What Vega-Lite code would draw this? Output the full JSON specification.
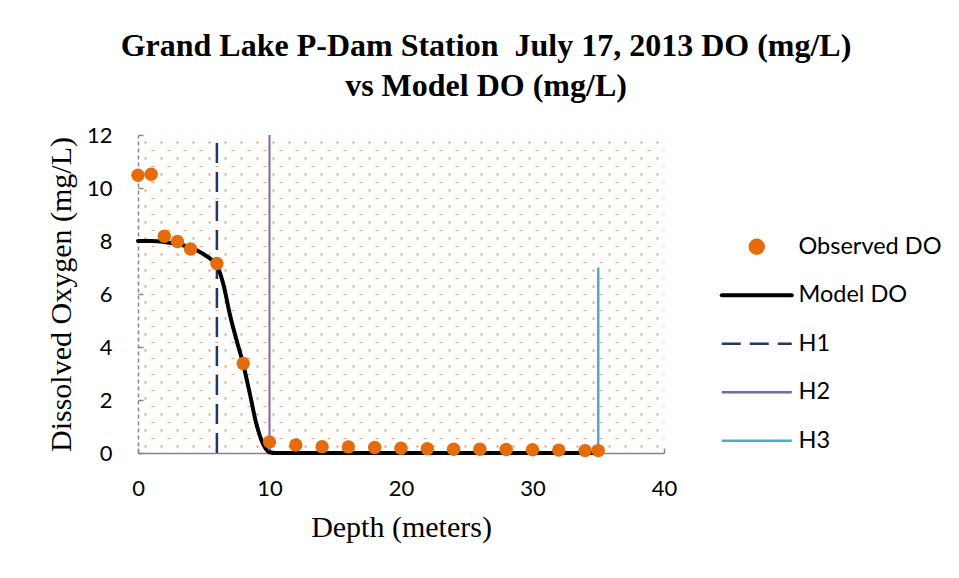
{
  "$schema": "https://vega.github.io/schema/vega-lite/v6.json",
  "width": 526,
  "height": 318,
  "autosize": "none",
  "padding": {"left": 138, "top": 135, "right": 295, "bottom": 125},
  "background": "white",
  "config": {"view": {"stroke": null}, "font": "Lato"},
  "title": {
    "text": ["Grand Lake P-Dam Station\u00a0 July 17, 2013 DO (mg/L)", "vs Model DO (mg/L)"],
    "font": "Liberation Serif",
    "fontSize": 32,
    "fontWeight": "bold",
    "color": "black",
    "lineHeight": 40,
    "anchor": "middle",
    "dx": 85,
    "offset": 21
  },
  "datasets": {
    "observed": [
      {"depth": 0, "do": 10.48, "series": "Observed DO"},
      {"depth": 1, "do": 10.52, "series": "Observed DO"},
      {"depth": 2, "do": 8.18, "series": "Observed DO"},
      {"depth": 3, "do": 7.98, "series": "Observed DO"},
      {"depth": 4, "do": 7.7, "series": "Observed DO"},
      {"depth": 6, "do": 7.15, "series": "Observed DO"},
      {"depth": 8, "do": 3.38, "series": "Observed DO"},
      {"depth": 10, "do": 0.42, "series": "Observed DO"},
      {"depth": 12, "do": 0.3, "series": "Observed DO"},
      {"depth": 14, "do": 0.24, "series": "Observed DO"},
      {"depth": 16, "do": 0.23, "series": "Observed DO"},
      {"depth": 18, "do": 0.21, "series": "Observed DO"},
      {"depth": 20, "do": 0.18, "series": "Observed DO"},
      {"depth": 22, "do": 0.16, "series": "Observed DO"},
      {"depth": 24, "do": 0.14, "series": "Observed DO"},
      {"depth": 26, "do": 0.14, "series": "Observed DO"},
      {"depth": 28, "do": 0.13, "series": "Observed DO"},
      {"depth": 30, "do": 0.12, "series": "Observed DO"},
      {"depth": 32, "do": 0.11, "series": "Observed DO"},
      {"depth": 34, "do": 0.09, "series": "Observed DO"},
      {"depth": 35, "do": 0.09, "series": "Observed DO"}
    ],
    "model": [
      {"depth": 0, "do": 8.0, "series": "Model DO"},
      {"depth": 1, "do": 8.0, "series": "Model DO"},
      {"depth": 2, "do": 7.96, "series": "Model DO"},
      {"depth": 3, "do": 7.88, "series": "Model DO"},
      {"depth": 4, "do": 7.76, "series": "Model DO"},
      {"depth": 5, "do": 7.5, "series": "Model DO"},
      {"depth": 5.5, "do": 7.33, "series": "Model DO"},
      {"depth": 6, "do": 7.08, "series": "Model DO"},
      {"depth": 6.5, "do": 6.35, "series": "Model DO"},
      {"depth": 7, "do": 5.2, "series": "Model DO"},
      {"depth": 7.5, "do": 4.25, "series": "Model DO"},
      {"depth": 8, "do": 3.35, "series": "Model DO"},
      {"depth": 8.5, "do": 2.25, "series": "Model DO"},
      {"depth": 9, "do": 1.1, "series": "Model DO"},
      {"depth": 9.5, "do": 0.35, "series": "Model DO"},
      {"depth": 10, "do": 0.03, "series": "Model DO"},
      {"depth": 10.5, "do": 0, "series": "Model DO"},
      {"depth": 12, "do": 0, "series": "Model DO"},
      {"depth": 35, "do": 0, "series": "Model DO"}
    ],
    "refs": [
      {"series": "H1", "depth": 6, "lo": 0, "hi": 12},
      {"series": "H2", "depth": 10, "lo": 0, "hi": 12},
      {"series": "H3", "depth": 35, "lo": 0, "hi": 7}
    ]
  },
  "layer": [
    {
      "layer": [
        {
          "data": {"name": "refs"},
          "mark": {"type": "rule"},
          "encoding": {
            "x": {
              "field": "depth", "type": "quantitative",
              "scale": {"domain": [0, 40], "nice": false, "zero": false},
              "axis": {
                "values": [0, 10, 20, 30, 40],
                "title": "Depth (meters)",
                "titleFont": "Liberation Serif", "titleFontSize": 30, "titleFontWeight": "normal", "titleColor": "black",
                "titlePadding": 13,
                "labelFont": "Lato", "labelFontSize": 22, "labelColor": "black", "labelPadding": 30, "labelFlush": false,
                "domainColor": "#868686", "domainWidth": 1.5,
                "tickColor": "#868686", "tickSize": -5, "tickWidth": 1.5,
                "grid": false
              }
            },
            "y": {
              "field": "lo", "type": "quantitative",
              "scale": {"domain": [0, 12], "nice": false},
              "axis": {
                "orient": "left",
                "values": [0, 2, 4, 6, 8, 10, 12],
                "title": "Dissolved Oxygen (mg/L)",
                "titleFont": "Liberation Serif", "titleFontSize": 30, "titleFontWeight": "normal", "titleColor": "black",
                "titlePadding": 10,
                "labelFont": "Lato", "labelFontSize": 22, "labelColor": "black", "labelPadding": 31,
                "domainColor": "#868686", "domainWidth": 1.5, "domainDash": [4, 3],
                "tickColor": "#868686", "tickSize": -5, "tickWidth": 1.5,
                "grid": false
              }
            },
            "y2": {"field": "hi"},
            "color": {
              "field": "series", "type": "nominal",
              "scale": {
                "domain": ["Observed DO", "Model DO", "H1", "H2", "H3"],
                "range": ["#e46c0a", "#000000", "#1f3864", "#8064a2", "#4bacc6"]
              },
              "legend": {
                "orient": "none",
                "legendX": 607,
                "legendY": 100,
                "title": null,
                "labelFont": "Lato",
                "labelFontSize": 23.5,
                "labelColor": "black",
                "labelOffset": 30,
                "rowPadding": 23.5,
                "symbolSize": 196,
                "encode": {
                  "symbols": {
                    "update": {
                      "shape": {"signal": "datum.value === 'Observed DO' ? 'circle' : 'M-5,0H5'"},
                      "size": {"value": 196},
                      "fill": {"signal": "datum.value === 'Observed DO' ? '#e46c0a' : 'transparent'"},
                      "stroke": {"signal": "datum.value === 'Observed DO' ? 'transparent' : datum.value === 'Model DO' ? '#000000' : datum.value === 'H1' ? '#1f3864' : datum.value === 'H2' ? '#8064a2' : '#4bacc6'"},
                      "strokeWidth": {"signal": "datum.value === 'Model DO' ? 4 : 2.5"},
                      "strokeDash": {"signal": "datum.value === 'H1' ? [19, 9] : []"},
                      "strokeCap": {"signal": "datum.value === 'Model DO' ? 'round' : 'butt'"},
                      "opacity": {"value": 1},
                      "fillOpacity": {"value": 1},
                      "strokeOpacity": {"value": 1}
                    }
                  }
                }
              }
            },
            "strokeDash": {"condition": {"test": "datum.series === 'H1'", "value": [20, 9]}, "value": [1, 0]},
            "strokeWidth": {"condition": {"test": "datum.series === 'H2'", "value": 2}, "value": 2.5}
          }
        },
        {
          "data": {"name": "model"},
          "mark": {"type": "line", "interpolate": "monotone", "strokeWidth": 4, "strokeCap": "round", "strokeJoin": "round"},
          "encoding": {
            "x": {"field": "depth", "type": "quantitative"},
            "y": {"field": "do", "type": "quantitative"},
            "color": {"field": "series", "type": "nominal"}
          }
        },
        {
          "data": {"name": "observed"},
          "mark": {"type": "circle", "size": 180, "opacity": 1},
          "encoding": {
            "x": {"field": "depth", "type": "quantitative"},
            "y": {"field": "do", "type": "quantitative"},
            "color": {"field": "series", "type": "nominal"}
          }
        }
      ]
    },
    {
      "data": {"name": "observed"},
      "mark": {"type": "rule", "opacity": 0},
      "encoding": {
        "y": {
          "field": "do", "type": "quantitative",
          "axis": {
            "orient": "right",
            "values": [11.747, 11.445, 11.143, 10.841, 10.54, 10.238, 9.936, 9.634, 9.332, 9.03, 8.728, 8.426, 8.125, 7.823, 7.521, 7.219, 6.917, 6.615, 6.313, 6.011, 5.709, 5.408, 5.106, 4.804, 4.502, 4.2, 3.898, 3.596, 3.294, 2.992, 2.691, 2.389, 2.087, 1.785, 1.483, 1.181, 0.879, 0.577, 0.275],
            "labels": false,
            "ticks": false,
            "domain": false,
            "title": null,
            "grid": true,
            "gridColor": "#e97a2a",
            "gridWidth": {"condition": {"test": "abs((11.747 - datum.value) / 0.6038 - round((11.747 - datum.value) / 0.6038)) < 0.2", "value": 2}, "value": 1.2},
            "gridDash": {"condition": {"test": "abs((11.747 - datum.value) / 0.6038 - round((11.747 - datum.value) / 0.6038)) < 0.2", "value": [2, 14]}, "value": [3, 13]},
            "gridDashOffset": {"condition": {"test": "abs((11.747 - datum.value) / 0.6038 - round((11.747 - datum.value) / 0.6038)) < 0.2", "value": 10}, "value": 2},
            "gridOpacity": {"condition": {"test": "abs((11.747 - datum.value) / 0.6038 - round((11.747 - datum.value) / 0.6038)) < 0.2", "value": 0.8}, "value": 0.7}
          }
        }
      }
    }
  ],
  "resolve": {"axis": {"y": "independent"}}
}
